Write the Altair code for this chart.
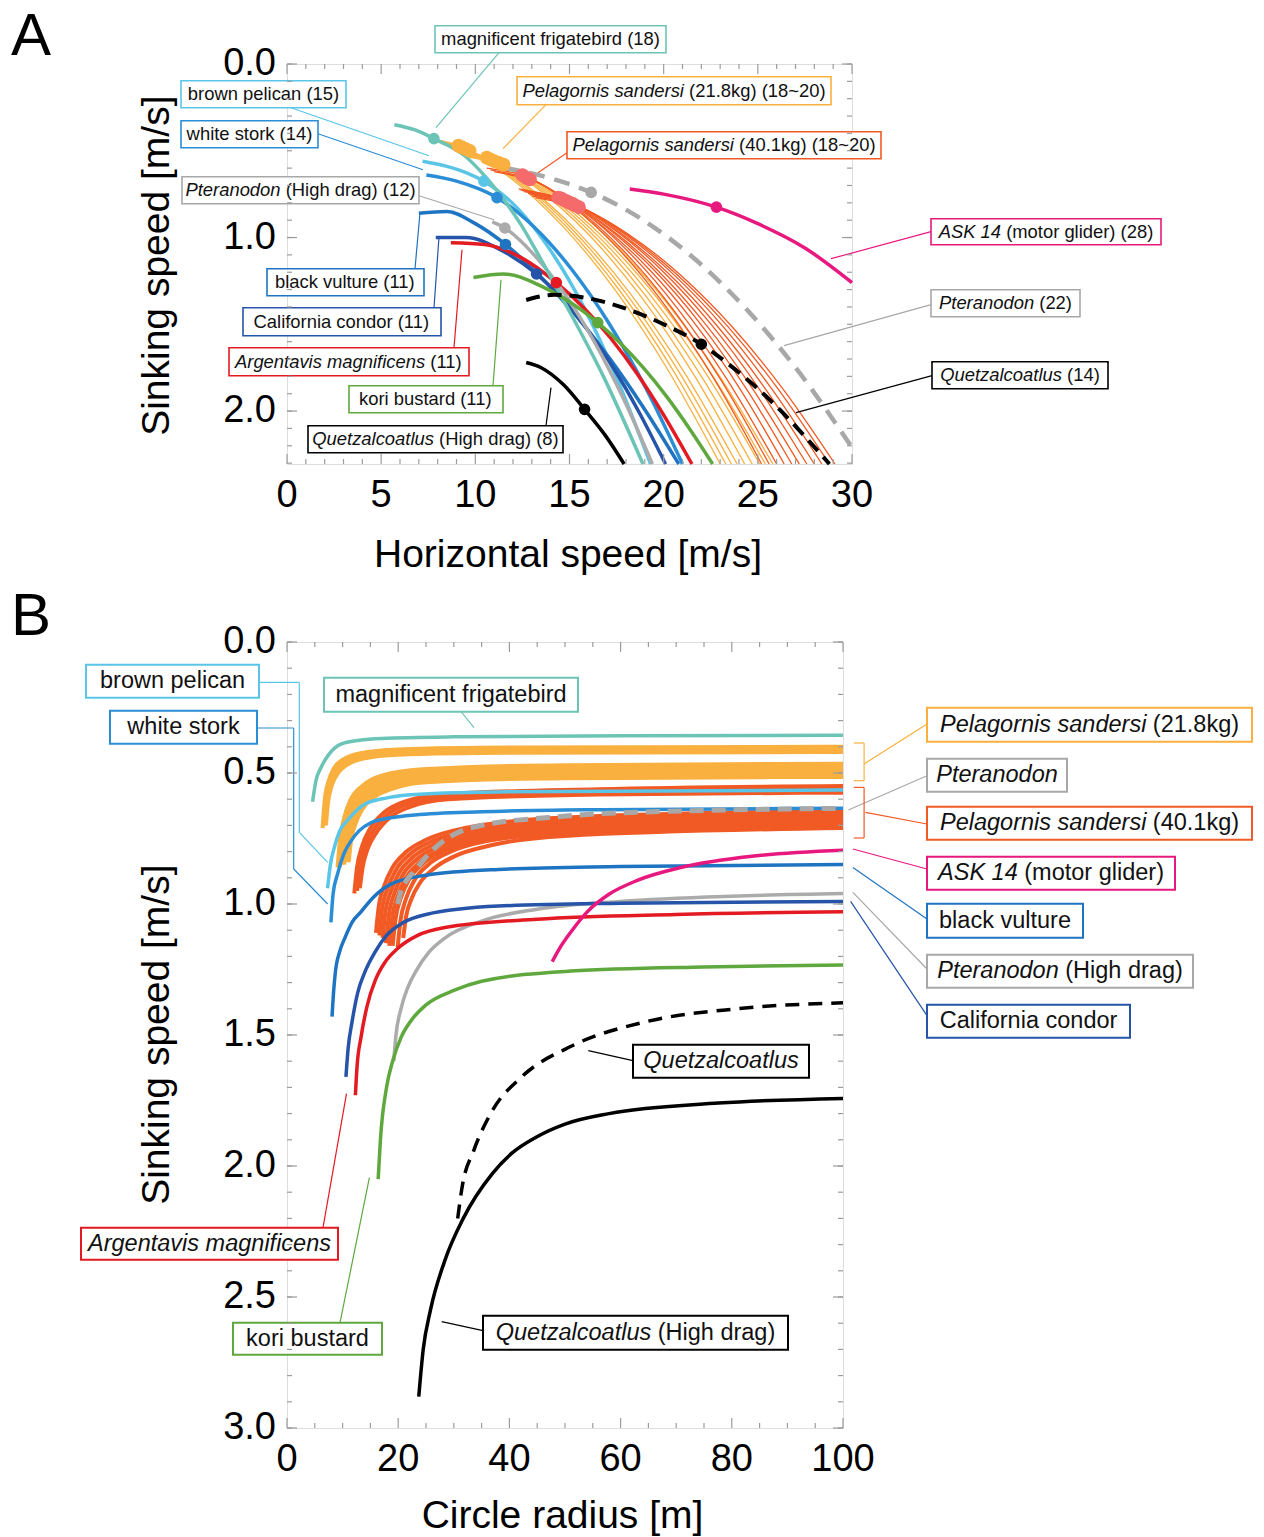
import altair as alt
import pandas as pd

FONT = "Liberation Sans"

# ------------------------------------------------------------------
# Panel geometry (pixels) and axis ranges
# ------------------------------------------------------------------
A_W, A_H = 565, 400
B_W, B_H = 556, 786
A_XMAX, A_YMAX = 30.0, 2.305
B_XMAX, B_YMAX = 100.0, 3.0
A_X0, A_Y0 = 286.0, 63.3      # canvas position of panel A plot origin
B_X0, B_Y0 = 286.0, 641.3     # canvas position of panel B plot origin

# tick values and tick labels
A_XTICK_MAJOR = [0, 5, 10, 15, 20, 25, 30]
A_XTICK_LABELS = ["0", "5", "10", "15", "20", "25", "30"]
A_XTICK_MINOR = [i for i in range(31) if i % 5]
A_YTICK_MAJOR = [0.0, 1.0, 2.0]
A_YTICK_LABELS = ["0.0", "1.0", "2.0"]
A_YTICK_MINOR = [round(0.1 * i, 1) for i in range(24)]
B_XTICK_MAJOR = [0, 20, 40, 60, 80, 100]
B_XTICK_LABELS = ["0", "20", "40", "60", "80", "100"]
B_XTICK_MINOR = [i for i in range(0, 101, 5) if i % 20]
B_YTICK_MAJOR = [0.0, 0.5, 1.0, 1.5, 2.0, 2.5, 3.0]
B_YTICK_LABELS = ["0.0", "0.5", "1.0", "1.5", "2.0", "2.5", "3.0"]
B_YTICK_MINOR = [round(0.1 * i, 1) for i in range(31)]

# ------------------------------------------------------------------
# Panel A : glide polars (horizontal speed, sinking speed)
# ------------------------------------------------------------------
A_FRIGATEBIRD = [(5.7, 0.35), (6.8, 0.38), (7.8, 0.43), (9.45, 0.53), (10.5, 0.645), (11.5, 0.78),
                 (12.45, 0.93), (13.3, 1.09), (14.7, 1.366), (16.8, 1.8), (18.9, 2.305)]
A_PELICAN = [(7.2, 0.56), (8.5, 0.59), (9.6, 0.63), (10.45, 0.675), (12.22, 0.829), (13.99, 1.074),
             (15.76, 1.401), (17.53, 1.816), (19.3, 2.305)]
A_STORK = [(7.4, 0.64), (9.0, 0.675), (10.2, 0.72), (11.15, 0.77), (13.12, 0.939), (15.09, 1.18),
           (17.06, 1.488), (19.03, 1.863), (21.0, 2.305)]
A_PTERO_HD = [(10.9, 0.91), (11.57, 0.945), (13.14, 1.102), (14.7, 1.318), (16.27, 1.591),
              (17.83, 1.921), (19.4, 2.305)]
A_VULTURE = [(7.0, 0.86), (8.5, 0.85), (10.0, 0.92), (11.6, 1.04), (13.44, 1.223), (15.28, 1.441),
             (17.12, 1.695), (18.96, 1.985), (20.8, 2.305)]
A_CONDOR = [(7.9, 1.0), (9.5, 1.0), (11.5, 1.08), (13.25, 1.21), (14.62, 1.353), (15.99, 1.536),
            (17.36, 1.756), (18.73, 2.014), (20.1, 2.305)]
A_ARGENTAVIS = [(8.7, 1.03), (10.5, 1.04), (12.5, 1.12), (14.3, 1.26), (15.74, 1.403), (17.18, 1.579),
                (18.62, 1.789), (20.06, 2.033), (21.5, 2.305)]
A_KORI = [(9.9, 1.23), (11.5, 1.21), (13.5, 1.28), (15.0, 1.37), (16.5, 1.49), (17.72, 1.611),
          (18.94, 1.753), (20.16, 1.917), (21.38, 2.103), (22.6, 2.305)]
A_QUETZ_HD = [(12.7, 1.72), (13.5, 1.75), (14.7, 1.85), (15.8, 1.99), (16.9, 2.14), (17.9, 2.305)]
A_ASK14 = [(18.2, 0.72), (20.0, 0.75), (22.8, 0.825), (25.0, 0.92), (27.5, 1.06), (30.0, 1.26)]
A_PTERO = [(11.5, 0.6), (13.0, 0.63), (14.5, 0.675), (16.15, 0.74), (18.92, 0.9), (21.69, 1.127),
           (24.46, 1.421), (27.23, 1.782), (30.0, 2.21)]
A_QUETZ = [(12.7, 1.36), (14.2, 1.33), (16.0, 1.35), (18.0, 1.41), (20.0, 1.5), (22.0, 1.615),
           (23.36, 1.722), (24.72, 1.844), (26.08, 1.983), (27.44, 2.139), (28.8, 2.305)]

# Pelagornis sandersi families (thin lines); the third point of each is the best-glide dot
A_PELAGORNIS_21 = [
    [(7.6, 0.43), (8.3, 0.445), (9.1, 0.47), (11.88, 0.658), (14.66, 0.937), (17.44, 1.305), (20.22, 1.762), (23.0, 2.305)],
    [(7.8, 0.44), (8.5, 0.455), (9.3, 0.48), (12.1, 0.667), (14.9, 0.945), (17.7, 1.311), (20.5, 1.765), (23.3, 2.305)],
    [(8.0, 0.45), (8.7, 0.465), (9.5, 0.49), (12.32, 0.676), (15.14, 0.952), (17.96, 1.316), (20.78, 1.768), (23.6, 2.305)],
    [(8.2, 0.46), (8.9, 0.475), (9.7, 0.50), (12.54, 0.685), (15.38, 0.96), (18.22, 1.322), (21.06, 1.771), (23.9, 2.305)],
    [(8.9, 0.50), (9.7, 0.515), (10.6, 0.54), (13.34, 0.721), (16.08, 0.99), (18.82, 1.344), (21.56, 1.783), (24.3, 2.305)],
    [(9.0, 0.505), (9.9, 0.525), (10.8, 0.55), (13.58, 0.73), (16.36, 0.997), (19.14, 1.349), (21.92, 1.786), (24.7, 2.305)],
    [(9.2, 0.515), (10.1, 0.535), (11.0, 0.56), (13.82, 0.739), (16.64, 1.005), (19.46, 1.355), (22.28, 1.789), (25.1, 2.305)],
    [(9.4, 0.525), (10.3, 0.545), (11.25, 0.57), (14.08, 0.747), (16.91, 1.012), (19.74, 1.36), (22.57, 1.791), (25.4, 2.305)],
    [(9.6, 0.535), (10.5, 0.555), (11.5, 0.58), (14.36, 0.756), (17.22, 1.019), (20.08, 1.365), (22.94, 1.794), (25.8, 2.305)],
]
A_PELAGORNIS_40 = [
    [(10.6, 0.60), (11.5, 0.615), (12.5, 0.64), (15.04, 0.81), (17.58, 1.064), (20.12, 1.398), (22.66, 1.812), (25.2, 2.305)],
    [(10.8, 0.61), (11.7, 0.63), (12.7, 0.655), (15.28, 0.824), (17.86, 1.075), (20.44, 1.406), (23.02, 1.817), (25.6, 2.305)],
    [(11.0, 0.62), (11.9, 0.64), (12.9, 0.665), (15.52, 0.833), (18.14, 1.083), (20.76, 1.412), (23.38, 1.82), (26.0, 2.305)],
    [(12.3, 0.72), (13.3, 0.74), (14.4, 0.77), (16.8, 0.939), (19.2, 1.18), (21.6, 1.488), (24.0, 1.863), (26.4, 2.305)],
    [(12.4, 0.725), (13.4, 0.745), (14.55, 0.775), (17.0, 0.944), (19.45, 1.183), (21.9, 1.49), (24.35, 1.865), (26.8, 2.305)],
    [(12.5, 0.73), (13.6, 0.755), (14.7, 0.785), (17.2, 0.953), (19.7, 1.191), (22.2, 1.496), (24.7, 1.868), (27.2, 2.305)],
    [(12.6, 0.735), (13.7, 0.76), (14.85, 0.79), (17.4, 0.957), (19.95, 1.194), (22.5, 1.498), (25.05, 1.869), (27.6, 2.305)],
    [(12.8, 0.745), (13.9, 0.77), (15.0, 0.80), (17.6, 0.966), (20.2, 1.202), (22.8, 1.504), (25.4, 1.872), (28.0, 2.305)],
    [(12.9, 0.75), (14.0, 0.775), (15.15, 0.805), (17.8, 0.971), (20.45, 1.205), (23.1, 1.506), (25.75, 1.874), (28.4, 2.305)],
    [(13.0, 0.76), (14.2, 0.785), (15.3, 0.815), (18.0, 0.979), (20.7, 1.213), (23.4, 1.512), (26.1, 1.876), (28.8, 2.305)],
    [(13.2, 0.77), (14.4, 0.795), (15.5, 0.825), (18.22, 0.988), (20.94, 1.22), (23.66, 1.517), (26.38, 1.879), (29.1, 2.305)],
]

# best-glide points
A_DOTS = {
    "frigatebird": (7.8, 0.43), "pelican": (10.45, 0.675), "stork": (11.15, 0.77),
    "ptero_hd": (11.57, 0.945), "vulture": (11.6, 1.04), "condor": (13.25, 1.21),
    "argentavis": (14.3, 1.26), "kori": (16.5, 1.49), "quetz_hd": (15.8, 1.99),
    "quetz": (22.0, 1.615), "ptero": (16.15, 0.74), "ask14": (22.8, 0.825),
}

# ------------------------------------------------------------------
# Panel B : sinking speed vs circle radius
# ------------------------------------------------------------------
B_FRIGATEBIRD = [(4.6, 0.61), (5.2, 0.53), (6.1, 0.48), (7.5, 0.43), (9.7, 0.39), (13.0, 0.375),
                 (17.0, 0.368), (30.0, 0.362), (60.0, 0.358), (100.0, 0.356)]
B_PELICAN = [(7.3, 0.94), (7.8, 0.85), (8.5, 0.785), (9.5, 0.72), (10.9, 0.68), (13.9, 0.62),
             (18.0, 0.595), (23.0, 0.582), (40.0, 0.572), (100.0, 0.565)]
B_STORK = [(7.9, 1.07), (8.3, 0.96), (9.1, 0.885), (10.2, 0.81), (11.5, 0.76), (13.0, 0.72),
           (15.1, 0.69), (19.0, 0.67), (23.0, 0.66), (35.0, 0.648), (56.6, 0.64), (100.0, 0.635)]
B_PTERO = [(19.9, 1.0), (20.5, 0.95), (21.5, 0.91), (22.9, 0.875), (25.9, 0.80), (30.0, 0.735),
           (35.0, 0.70), (47.0, 0.67), (56.6, 0.655), (100.0, 0.635)]
B_ASK14 = [(47.7, 1.22), (49.0, 1.17), (51.3, 1.10), (54.0, 1.03), (57.9, 0.963), (63.0, 0.91),
           (71.0, 0.86), (84.0, 0.817), (100.0, 0.795)]
B_VULTURE = [(8.1, 1.43), (8.4, 1.33), (8.7, 1.26), (9.5, 1.18), (10.4, 1.13), (11.7, 1.07),
             (13.3, 1.03), (15.5, 0.975), (18.6, 0.925), (25.0, 0.89), (38.0, 0.868), (60.0, 0.857),
             (100.0, 0.849)]
B_CONDOR = [(10.6, 1.66), (11.0, 1.55), (11.7, 1.45), (12.7, 1.34), (14.0, 1.26), (15.8, 1.185),
            (17.9, 1.12), (21.0, 1.07), (25.0, 1.04), (38.0, 1.008), (60.0, 0.997), (100.0, 0.99)]
B_ARGENTAVIS = [(12.3, 1.73), (12.6, 1.62), (13.3, 1.51), (14.4, 1.39), (15.9, 1.29), (17.7, 1.22),
                (19.9, 1.17), (23.5, 1.12), (28.4, 1.09), (45.0, 1.058), (70.0, 1.04), (100.0, 1.03)]
B_PTERO_HD = [(19.2, 1.6), (19.6, 1.5), (20.5, 1.40), (21.7, 1.32), (23.2, 1.256), (25.5, 1.185),
              (28.4, 1.13), (35.0, 1.065), (45.0, 1.02), (60.0, 0.99), (80.0, 0.97), (100.0, 0.96)]
B_KORI = [(16.4, 2.05), (16.8, 1.9), (17.9, 1.70), (19.0, 1.6), (20.5, 1.51), (22.5, 1.44),
          (25.0, 1.385), (30.0, 1.33), (35.0, 1.295), (51.0, 1.256), (75.0, 1.24), (100.0, 1.233)]
B_QUETZ = [(30.7, 2.2), (31.5, 2.08), (33.6, 1.94), (36.9, 1.79), (42.2, 1.66), (51.4, 1.54),
           (64.4, 1.45), (80.8, 1.40), (100.0, 1.377)]
B_QUETZ_HD = [(23.7, 2.88), (24.5, 2.7), (25.8, 2.55), (28.4, 2.36), (31.7, 2.2), (36.9, 2.03),
              (40.5, 1.95), (44.8, 1.89), (50.0, 1.84), (57.9, 1.8), (77.6, 1.76), (100.0, 1.742)]

B_PELAGORNIS_21 = [
    [(6.4, 0.71), (6.8, 0.60), (7.5, 0.53), (8.5, 0.48), (10.0, 0.45), (13.0, 0.425), (20.0, 0.41), (40.0, 0.403), (100.0, 0.40)],
    [(6.7, 0.70), (7.1, 0.60), (7.8, 0.535), (8.8, 0.49), (10.3, 0.46), (13.3, 0.435), (20.0, 0.42), (40.0, 0.413), (100.0, 0.41)],
    [(7.0, 0.70), (7.4, 0.61), (8.1, 0.545), (9.2, 0.50), (10.7, 0.47), (13.7, 0.445), (20.0, 0.43), (40.0, 0.423), (100.0, 0.42)],
    [(9.1, 0.86), (9.5, 0.76), (10.3, 0.67), (11.5, 0.60), (13.5, 0.55), (17.0, 0.51), (25.0, 0.485), (50.0, 0.47), (100.0, 0.465)],
    [(9.5, 0.86), (9.9, 0.76), (10.7, 0.675), (11.9, 0.61), (13.9, 0.56), (17.4, 0.52), (25.0, 0.495), (50.0, 0.48), (100.0, 0.475)],
    [(9.9, 0.85), (10.3, 0.76), (11.1, 0.68), (12.3, 0.62), (14.3, 0.57), (17.8, 0.53), (25.0, 0.505), (50.0, 0.49), (100.0, 0.485)],
    [(10.3, 0.85), (10.7, 0.76), (11.5, 0.685), (12.7, 0.625), (14.7, 0.575), (18.2, 0.54), (25.0, 0.515), (50.0, 0.50), (100.0, 0.495)],
    [(10.7, 0.84), (11.1, 0.76), (11.9, 0.69), (13.1, 0.63), (15.1, 0.585), (18.6, 0.55), (25.0, 0.525), (50.0, 0.51), (100.0, 0.505)],
    [(11.1, 0.84), (11.5, 0.76), (12.3, 0.695), (13.5, 0.64), (15.5, 0.595), (19.0, 0.56), (25.0, 0.535), (50.0, 0.52), (100.0, 0.515)],
]
B_PELAGORNIS_40 = [
    [(12.1, 0.96), (12.6, 0.86), (13.5, 0.78), (15.0, 0.71), (17.5, 0.65), (21.0, 0.61), (29.0, 0.58), (56.0, 0.562), (100.0, 0.55)],
    [(12.6, 0.95), (13.1, 0.86), (14.0, 0.785), (15.5, 0.72), (18.0, 0.66), (21.5, 0.62), (29.0, 0.59), (56.0, 0.572), (100.0, 0.56)],
    [(13.1, 0.94), (13.6, 0.86), (14.5, 0.79), (16.0, 0.73), (18.5, 0.67), (22.0, 0.63), (29.0, 0.60), (56.0, 0.582), (100.0, 0.575)],
    [(16.0, 1.11), (16.5, 1.01), (17.5, 0.93), (19.0, 0.86), (21.5, 0.80), (25.0, 0.755), (32.0, 0.71), (50.0, 0.67), (100.0, 0.645)],
    [(16.6, 1.12), (17.1, 1.02), (18.1, 0.94), (19.6, 0.87), (22.1, 0.81), (25.6, 0.765), (32.6, 0.72), (50.0, 0.68), (100.0, 0.655)],
    [(17.2, 1.13), (17.7, 1.03), (18.7, 0.95), (20.2, 0.88), (22.7, 0.82), (26.2, 0.775), (33.2, 0.73), (50.0, 0.69), (100.0, 0.665)],
    [(17.8, 1.15), (18.3, 1.045), (19.3, 0.96), (20.8, 0.89), (23.3, 0.83), (26.8, 0.785), (33.8, 0.74), (50.0, 0.70), (100.0, 0.675)],
    [(18.4, 1.16), (18.9, 1.055), (19.9, 0.97), (21.4, 0.90), (23.9, 0.84), (27.4, 0.795), (34.4, 0.75), (50.0, 0.71), (100.0, 0.685)],
    [(19.0, 1.16), (19.5, 1.06), (20.5, 0.975), (22.0, 0.905), (24.5, 0.845), (28.0, 0.80), (35.0, 0.755), (50.0, 0.72), (100.0, 0.695)],
    [(19.9, 1.165), (20.4, 1.065), (21.4, 0.98), (22.9, 0.91), (25.4, 0.85), (28.9, 0.805), (35.9, 0.76), (50.0, 0.73), (100.0, 0.705)],
    [(20.9, 1.13), (21.4, 1.05), (22.4, 0.98), (23.9, 0.92), (26.4, 0.865), (29.9, 0.82), (36.9, 0.775), (50.0, 0.74), (100.0, 0.71)],
]

# ------------------------------------------------------------------
# Styles
# ------------------------------------------------------------------
COLOR = {
    "frigatebird": "#6cc4b6", "pelican": "#5bc5e8", "stork": "#2a8dd6", "vulture": "#1f74c2",
    "condor": "#2554a8", "argentavis": "#e41a22", "kori": "#5ea83e", "ptero": "#a8a8a8",
    "ptero_hd": "#ababab", "quetz": "#000000", "quetz_hd": "#000000", "ask14": "#e8197e",
    "pel21": "#f9b03e", "pel40": "#f15a24",
}
PEL40_DOT = "#f56a6a"
FRAME = "#9c9c9c"
TEXT = "#111111"

# ------------------------------------------------------------------
# Annotations (canvas pixel positions of boxes and leader lines)
# ------------------------------------------------------------------
A_LABELS = [  # italic part, regular part, x1, y1, x2, y2, colour key
    ("", "magnificent frigatebird (18)", 434, 25, 665, 52, "frigatebird"),
    ("Pelagornis sandersi", " (21.8kg) (18~20)", 516, 76, 830, 104, "pel21"),
    ("Pelagornis sandersi", " (40.1kg) (18~20)", 566, 131, 880, 158, "pel40"),
    ("", "brown pelican (15)", 180, 80, 345, 107, "pelican"),
    ("", "white stork (14)", 180, 120, 317, 147, "stork"),
    ("Pteranodon", " (High drag) (12)", 181, 176, 418, 203, "ptero"),
    ("", "black vulture (11)", 266, 268, 423, 295, "vulture"),
    ("", "California condor (11)", 242, 307, 440, 335, "condor"),
    ("Argentavis magnificens", " (11)", 228, 347, 468, 375, "argentavis"),
    ("", "kori bustard (11)", 348, 385, 502, 412, "kori"),
    ("Quetzalcoatlus", " (High drag) (8)", 307, 425, 562, 452, "quetz"),
    ("ASK 14", " (motor glider) (28)", 930, 218, 1160, 244, "ask14"),
    ("Pteranodon", " (22)", 930, 289, 1079, 316, "ptero"),
    ("Quetzalcoatlus", " (14)", 931, 361, 1107, 388, "quetz"),
]
A_LEADERS = [  # x1, y1, x2, y2, colour key
    (498, 52, 435, 127, "frigatebird"), (545, 104, 502, 148, "pel21"),
    (566, 152, 537, 172, "pel40"), (290, 107, 428, 155, "pelican"),
    (317, 133, 422, 169, "stork"), (418, 195, 493, 219, "ptero"),
    (414, 268, 419, 212, "vulture"), (433, 307, 438, 236, "condor"),
    (453, 347, 461, 249, "argentavis"), (492, 385, 500, 279, "kori"),
    (545, 425, 550, 387, "quetz"), (930, 231, 830, 258, "ask14"),
    (930, 304, 783, 345, "ptero"), (931, 375, 795, 412, "quetz"),
]
B_LABELS = [
    ("", "brown pelican", 85, 664, 258, 697, "pelican"),
    ("", "white stork", 109, 710, 256, 743, "stork"),
    ("", "magnificent frigatebird", 323, 677, 577, 711, "frigatebird"),
    ("Pelagornis sandersi", " (21.8kg)", 926, 707, 1251, 741, "pel21"),
    ("Pteranodon", "", 926, 758, 1066, 791, "ptero"),
    ("Pelagornis sandersi", " (40.1kg)", 926, 806, 1251, 839, "pel40"),
    ("ASK 14", " (motor glider)", 926, 856, 1174, 889, "ask14"),
    ("", "black vulture", 926, 903, 1082, 937, "vulture"),
    ("Pteranodon", " (High drag)", 926, 954, 1192, 987, "ptero"),
    ("", "California condor", 926, 1004, 1129, 1037, "condor"),
    ("Quetzalcoatlus", "", 632, 1044, 808, 1077, "quetz"),
    ("Argentavis magnificens", "", 80, 1227, 337, 1259, "argentavis"),
    ("", "kori bustard", 232, 1322, 381, 1354, "kori"),
    ("Quetzalcoatlus", " (High drag)", 482, 1315, 787, 1349, "quetz"),
]
B_LEADERS = [
    (258, 681.7, 298.3, 681.7, "pelican"), (298.3, 681.7, 298.3, 831.7, "pelican"),
    (298.3, 831.7, 326.7, 861.7, "pelican"),
    (256, 727.3, 292.7, 727.3, "stork"), (292.7, 727.3, 292.7, 868.3, "stork"),
    (292.7, 868.3, 326.7, 903.3, "stork"),
    (460, 711, 473, 727, "frigatebird"),
    (926, 723.3, 863, 763.3, "pel21"),
    (852.8, 742.3, 863.1, 742.3, "pel21"), (863.1, 742.3, 863.1, 780, "pel21"),
    (863.1, 780, 852.8, 780, "pel21"),
    (926, 775, 847.4, 809.3, "ptero"),
    (926, 823.3, 864.4, 811.7, "pel40"),
    (852.8, 786.7, 863.1, 786.7, "pel40"), (863.1, 786.7, 863.1, 837.3, "pel40"),
    (863.1, 837.3, 852.8, 837.3, "pel40"),
    (926, 868.3, 851.9, 848.3, "ask14"),
    (926, 918.3, 851.9, 866.7, "vulture"),
    (926, 968.3, 851.9, 891.7, "ptero"),
    (926, 1015, 849.6, 900.7, "condor"),
    (632, 1060, 587.3, 1050, "quetz"),
    (322, 1227, 345.5, 1093, "argentavis"),
    (339, 1322, 368.4, 1177, "kori"),
    (482, 1330, 440.7, 1321, "quetz"),
]

# ------------------------------------------------------------------
# Helpers
# ------------------------------------------------------------------
ARIAL = {}
for ch, w in zip("abcdefghijklmnopqrstuvwxyz",
                 [556, 556, 500, 556, 556, 278, 556, 556, 222, 222, 500, 222, 833, 556, 556, 556,
                  556, 333, 500, 278, 556, 500, 722, 500, 500, 500]):
    ARIAL[ch] = w
for ch, w in zip("ABCDEFGHIJKLMNOPQRSTUVWXYZ",
                 [667, 667, 722, 722, 667, 611, 778, 722, 278, 500, 667, 556, 833, 722, 778, 667,
                  778, 722, 667, 611, 722, 667, 944, 667, 667, 611]):
    ARIAL[ch] = w
for ch in "0123456789":
    ARIAL[ch] = 556
ARIAL.update({" ": 278, "(": 333, ")": 333, ".": 278, "~": 584, "/": 278, "[": 278, "]": 278})


def text_w(s, size):
    return sum(ARIAL.get(c, 556) for c in s) * size / 1000.0


def a_fx(px):
    return (px - A_X0) / A_W * A_XMAX


def a_fy(py):
    return (py - A_Y0) / A_H * A_YMAX


def b_fx(px):
    return (px - B_X0) / B_W * B_XMAX


def b_fy(py):
    return (py - B_Y0) / B_H * B_YMAX


def curves_df(items):
    rows = []
    for name, pts, ckey in items:
        for i, (x, y) in enumerate(pts):
            rows.append({"s": name, "i": i, "x": x, "y": y, "c": COLOR[ckey]})
    return pd.DataFrame(rows)


def line_layer(df, xs, ys, width, dash=None):
    kw = dict(interpolate="monotone", strokeWidth=width)
    if dash:
        kw["strokeDash"] = dash
    return alt.Chart(df).mark_line(**kw).encode(
        x=alt.X("x:Q", scale=xs, axis=None),
        y=alt.Y("y:Q", scale=ys, axis=None),
        detail="s:N",
        order="i:Q",
        color=alt.Color("c:N", scale=None),
    )


def dot_layer(df, xs, ys, size):
    return alt.Chart(df).mark_circle(size=size, opacity=1).encode(
        x=alt.X("x:Q", scale=xs, axis=None), y=alt.Y("y:Q", scale=ys, axis=None),
        color=alt.Color("c:N", scale=None))


def annotation_layers(labels, leaders, fx, fy, xs, ys, size, box_w, lead_w):
    boxes, it_rows, rg_rows = [], [], []
    for it, rg, x1, y1, x2, y2, ck in labels:
        rg_s = rg.lstrip()
        gap = text_w(" ", size) if (rg.startswith(" ") and it) else 0.0
        wi = text_w(it, size)
        wr = text_w(rg_s, size)
        start = (x1 + x2) / 2.0 - (wi + gap + wr) / 2.0
        yc = (y1 + y2) / 2.0
        boxes.append({"x1": fx(x1), "x2": fx(x2), "y1": fy(y1), "y2": fy(y2), "c": COLOR[ck]})
        if it:
            it_rows.append({"tx": fx(start), "ty": fy(yc), "t": it})
        if rg_s:
            rg_rows.append({"tx": fx(start + wi + gap), "ty": fy(yc), "t": rg_s})
    lead = pd.DataFrame([{"x1": fx(a), "y1": fy(b), "x2": fx(c), "y2": fy(d), "c": COLOR[k]}
                         for a, b, c, d, k in leaders])
    layers = [
        alt.Chart(lead).mark_rule(strokeWidth=lead_w).encode(
            x=alt.X("x1:Q", scale=xs, axis=None), y=alt.Y("y1:Q", scale=ys, axis=None),
            x2="x2:Q", y2="y2:Q", color=alt.Color("c:N", scale=None)),
        alt.Chart(pd.DataFrame(boxes)).mark_rect(fill="white", strokeWidth=box_w).encode(
            x=alt.X("x1:Q", scale=xs, axis=None), y=alt.Y("y1:Q", scale=ys, axis=None),
            x2="x2:Q", y2="y2:Q", stroke=alt.Stroke("c:N", scale=None)),
    ]
    for rows, style in ((it_rows, "italic"), (rg_rows, "normal")):
        if rows:
            layers.append(
                alt.Chart(pd.DataFrame(rows)).mark_text(
                    align="left", baseline="middle", font=FONT, fontSize=size,
                    fontStyle=style, color=TEXT).encode(
                    x=alt.X("tx:Q", scale=xs, axis=None), y=alt.Y("ty:Q", scale=ys, axis=None),
                    text="t:N"))
    return layers


def tick_layers(xs, ys, W, H, xmaj, xmin, ymaj, ymin):
    out = []
    for vals, L in ((xmaj, 10), (xmin, 5)):
        base = alt.Chart(pd.DataFrame({"v": vals})).mark_rule(color=FRAME, strokeWidth=1.2)
        out.append(base.encode(x=alt.X("v:Q", scale=xs, axis=None), y=alt.value(H), y2=alt.value(H - L)))
        out.append(base.encode(x=alt.X("v:Q", scale=xs, axis=None), y=alt.value(0), y2=alt.value(L)))
    for vals, L in ((ymaj, 10), (ymin, 5)):
        base = alt.Chart(pd.DataFrame({"v": vals})).mark_rule(color=FRAME, strokeWidth=1.2)
        out.append(base.encode(y=alt.Y("v:Q", scale=ys, axis=None), x=alt.value(0), x2=alt.value(L)))
        out.append(base.encode(y=alt.Y("v:Q", scale=ys, axis=None), x=alt.value(W), x2=alt.value(W - L)))
    return out


def tick_label_layers(xs, ys, H, xvals, xlabels, yvals, ylabels):
    dxl = pd.DataFrame({"v": xvals, "t": xlabels})
    dyl = pd.DataFrame({"v": yvals, "t": ylabels})
    return [
        alt.Chart(dxl).mark_text(font=FONT, fontSize=38, color="black", align="center",
                                 baseline="top").encode(
            x=alt.X("v:Q", scale=xs, axis=None), y=alt.value(H + 13), text="t:N"),
        alt.Chart(dyl).mark_text(font=FONT, fontSize=38, color="black", align="right",
                                 baseline="middle").encode(
            y=alt.Y("v:Q", scale=ys, axis=None), x=alt.value(-11), text="t:N"),
    ]


def text_value(t, x, y, size, angle=0, align="center", baseline="middle"):
    kw = dict(font=FONT, fontSize=size, color="black", align=align, baseline=baseline)
    if angle:
        kw["angle"] = angle
    return alt.Chart(pd.DataFrame({"t": [t]})).mark_text(**kw).encode(
        text="t:N", x=alt.value(x), y=alt.value(y))


# ------------------------------------------------------------------
# Panel A
# ------------------------------------------------------------------
xsA = alt.Scale(domain=[0, A_XMAX], nice=False, zero=False)
ysA = alt.Scale(domain=[0, A_YMAX], nice=False, zero=False, reverse=True)

thinA = curves_df([(f"p21_{k}", pts, "pel21") for k, pts in enumerate(A_PELAGORNIS_21)] +
                  [(f"p40_{k}", pts, "pel40") for k, pts in enumerate(A_PELAGORNIS_40)])
thickA = curves_df([
    ("pelican", A_PELICAN, "pelican"), ("stork", A_STORK, "stork"),
    ("vulture", A_VULTURE, "vulture"), ("condor", A_CONDOR, "condor"),
    ("argentavis", A_ARGENTAVIS, "argentavis"), ("ptero_hd", A_PTERO_HD, "ptero_hd"),
    ("frigatebird", A_FRIGATEBIRD, "frigatebird"), ("kori", A_KORI, "kori"),
    ("quetz_hd", A_QUETZ_HD, "quetz_hd"), ("ask14", A_ASK14, "ask14"),
])
pteroA = curves_df([("ptero", A_PTERO, "ptero")])
quetzA = curves_df([("quetz", A_QUETZ, "quetz")])

pel_dots = pd.DataFrame(
    [{"x": pts[2][0], "y": pts[2][1], "c": COLOR["pel21"]} for pts in A_PELAGORNIS_21] +
    [{"x": pts[2][0], "y": pts[2][1], "c": PEL40_DOT} for pts in A_PELAGORNIS_40])
main_dots = pd.DataFrame([{"x": v[0], "y": v[1], "c": COLOR[k]} for k, v in A_DOTS.items()])

layersA = [line_layer(thinA, xsA, ysA, 1.3),
           line_layer(pteroA, xsA, ysA, 4.5, [16, 10]),
           line_layer(thickA, xsA, ysA, 3.5),
           line_layer(quetzA, xsA, ysA, 4.0, [14, 8]),
           dot_layer(pel_dots, xsA, ysA, 190),
           dot_layer(main_dots, xsA, ysA, 135)]
layersA += annotation_layers(A_LABELS, A_LEADERS, a_fx, a_fy, xsA, ysA, 18.4, 1.6, 1.2)
layersA += tick_layers(xsA, ysA, A_W, A_H, A_XTICK_MAJOR, A_XTICK_MINOR, A_YTICK_MAJOR, A_YTICK_MINOR)
layersA += tick_label_layers(xsA, ysA, A_H, A_XTICK_MAJOR, A_XTICK_LABELS, A_YTICK_MAJOR, A_YTICK_LABELS)
layersA += [
    text_value("A", 10 - A_X0, 7.6 - A_Y0, 60, align="left", baseline="top"),
    text_value("Sinking speed [m/s]", 156.3 - A_X0, 265 - A_Y0, 39, angle=270),
    text_value("Horizontal speed [m/s]", 567 - A_X0, 566 - A_Y0, 39, baseline="alphabetic"),
]
panelA = alt.layer(*layersA).properties(width=A_W, height=A_H)

# ------------------------------------------------------------------
# Panel B
# ------------------------------------------------------------------
xsB = alt.Scale(domain=[0, B_XMAX], nice=False, zero=False)
ysB = alt.Scale(domain=[0, B_YMAX], nice=False, zero=False, reverse=True)

bandB = curves_df([(f"p21_{k}", pts, "pel21") for k, pts in enumerate(B_PELAGORNIS_21)] +
                  [(f"p40_{k}", pts, "pel40") for k, pts in enumerate(B_PELAGORNIS_40)])
thickB = curves_df([
    ("frigatebird", B_FRIGATEBIRD, "frigatebird"), ("pelican", B_PELICAN, "pelican"),
    ("stork", B_STORK, "stork"), ("vulture", B_VULTURE, "vulture"),
    ("ptero_hd", B_PTERO_HD, "ptero_hd"), ("condor", B_CONDOR, "condor"),
    ("argentavis", B_ARGENTAVIS, "argentavis"), ("kori", B_KORI, "kori"),
    ("quetz_hd", B_QUETZ_HD, "quetz_hd"), ("ask14", B_ASK14, "ask14"),
])
pteroB = curves_df([("ptero", B_PTERO, "ptero")])
quetzB = curves_df([("quetz", B_QUETZ, "quetz")])

layersB = [line_layer(bandB, xsB, ysB, 4.0),
           line_layer(thickB, xsB, ysB, 3.5),
           line_layer(pteroB, xsB, ysB, 5.0, [14, 8]),
           line_layer(quetzB, xsB, ysB, 3.5, [14, 9])]
layersB += annotation_layers(B_LABELS, B_LEADERS, b_fx, b_fy, xsB, ysB, 23.5, 2.0, 1.2)
layersB += tick_layers(xsB, ysB, B_W, B_H, B_XTICK_MAJOR, B_XTICK_MINOR, B_YTICK_MAJOR, B_YTICK_MINOR)
layersB += tick_label_layers(xsB, ysB, B_H, B_XTICK_MAJOR, B_XTICK_LABELS, B_YTICK_MAJOR, B_YTICK_LABELS)
layersB += [
    text_value("B", 10 - B_X0, 587.6 - B_Y0, 60, align="left", baseline="top"),
    text_value("Sinking speed [m/s]", 156.3 - B_X0, 1034 - B_Y0, 39, angle=270),
    text_value("Circle radius [m]", 561.5 - B_X0, 1527 - B_Y0, 39, baseline="alphabetic"),
]
panelB = alt.layer(*layersB).properties(width=B_W, height=B_H)

chart = alt.vconcat(panelA, panelB, spacing=B_Y0 - A_Y0 - A_H, bounds="flush").properties(
    padding={"left": 10, "top": 6, "right": 5, "bottom": 0}
).configure_view(stroke=FRAME, strokeWidth=1.5).configure(background="white")

chart.save("out.html", embed_options={"renderer": "svg", "actions": False})
